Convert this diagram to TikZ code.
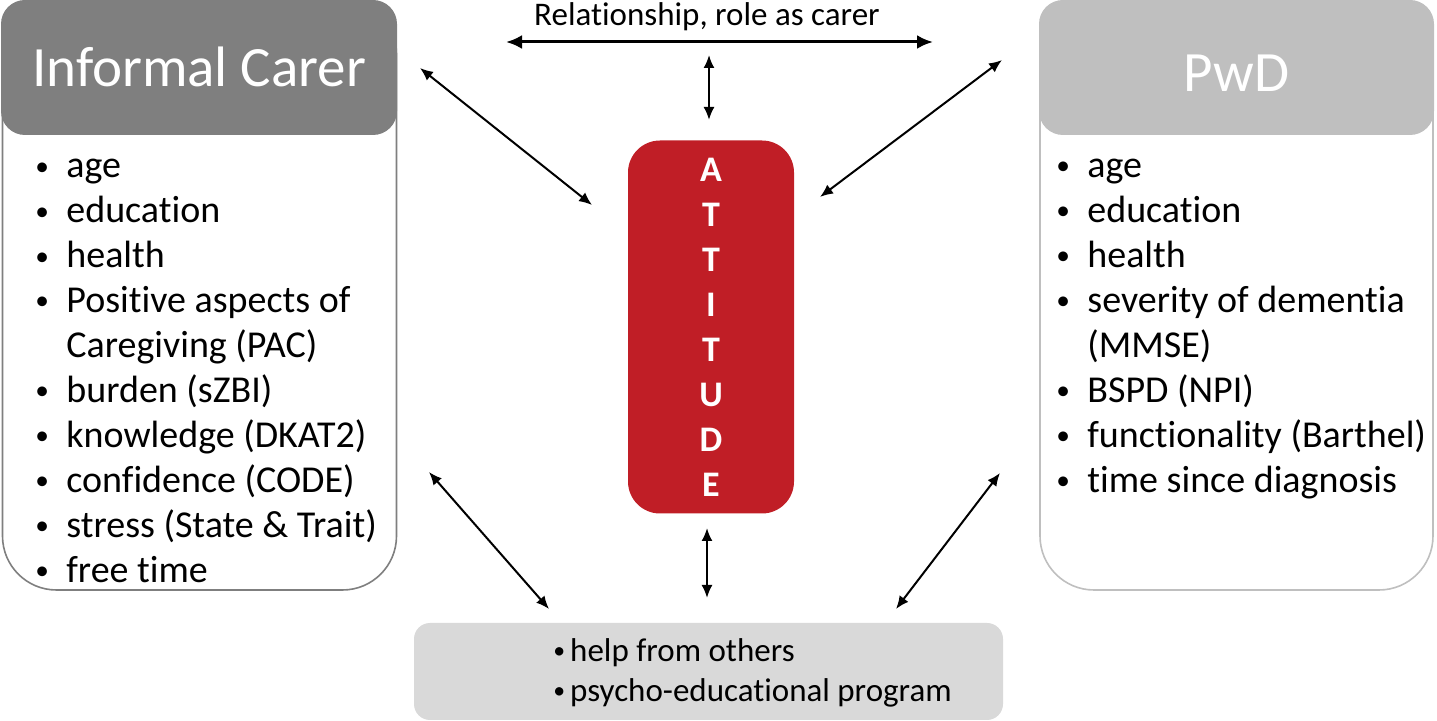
\documentclass[tikz,border=0pt]{standalone}
\usepackage{fontspec}
\setmainfont{Carlito}[Ligatures=NoCommon]
\usetikzlibrary{arrows.meta}
\definecolor{carergray}{RGB}{127,127,127}
\definecolor{pwdgray}{RGB}{191,191,191}
\definecolor{supportgray}{RGB}{217,217,217}
\definecolor{attred}{RGB}{192,30,38}
\newcommand{\smallbul}{\raisebox{1.2pt}{\scalebox{0.72}{\textbullet}}}
\newcommand{\itembul}{\makebox[17pt][l]{\hspace{1.5pt}\smallbul}}
\tikzset{
  boxbody/.style={draw, line width=0.8pt, fill=white, rounded corners=27pt, minimum width=197pt, minimum height=295pt, inner sep=0},
  boxhead/.style={rounded corners=12pt, minimum width=198pt, minimum height=67.5pt, text=white, font=\fontsize{28.5}{34}\selectfont, inner sep=0},
  itemlist/.style={anchor=north west, align=left, inner sep=0, font=\fontsize{19}{22.5}\selectfont},
  twoway/.style={{Latex[length=6.5pt,width=5.5pt]}-{Latex[length=6.5pt,width=5.5pt]}, line width=1pt},
}
\begin{document}
\begin{tikzpicture}[x=0.5pt,y=-0.5pt]
\useasboundingbox (0,0) rectangle (1437,721);
\coordinate (RL) at (506,42);
\coordinate (RR) at (933,42);
\coordinate (TU) at (709,55);
\coordinate (TD) at (709,120);
\coordinate (LU) at (420,68);
\coordinate (LA) at (592,205);
\coordinate (PU) at (1002,60);
\coordinate (PA) at (820,197);
\coordinate (LD) at (429,472);
\coordinate (LS) at (549,609);
\coordinate (PD) at (1000,473);
\coordinate (PS) at (896,609);
\coordinate (BU) at (707,528);
\coordinate (BD) at (707,598);

\node[boxbody, draw=carergray] (carerbody) at (199.5,295) {};
\node[boxhead, fill=carergray] (carerhead) at (199,67.5) {\raisebox{-9.5pt}[0pt][0pt]{Informal Carer}};
\node[itemlist] (carerlist) at (32,145.5) {\strut\itembul age\\ \itembul education\\ \itembul health\\ \itembul Positive aspects of\\ \hspace*{17pt}Caregiving (PAC)\\ \itembul burden (sZBI)\\ \itembul knowledge (DKAT2)\\ \itembul confidence (CODE)\\ \itembul stress (State \& Trait)\\ \itembul free time};

\node[boxbody, draw=pwdgray, minimum width=196.5pt] (pwdbody) at (1236.5,295) {};
\node[boxhead, fill=pwdgray, minimum width=197.5pt] (pwdhead) at (1236.5,67.5) {\raisebox{-12.25pt}[0pt][0pt]{PwD}};
\node[itemlist] (pwdlist) at (1053,145.5) {\strut\itembul age\\ \itembul education\\ \itembul health\\ \itembul severity of dementia\\ \hspace*{17pt}(MMSE)\\ \itembul BSPD (NPI)\\ \itembul functionality (Barthel)\\ \itembul time since diagnosis};

\node[fill=attred, rounded corners=16pt, minimum width=83pt, minimum height=186.5pt, text=white, align=center, font=\bfseries\fontsize{18}{22.5}\selectfont] (attitude) at (711,327) {A\\T\\T\\I\\T\\U\\D\\E};

\node[fill=supportgray, rounded corners=8pt, minimum width=294.5pt, minimum height=48.5pt] (support) at (708.5,671.5) {};
\node[anchor=north west, align=left, inner sep=0, font=\fontsize{16.5}{20}\selectfont] (supportlist) at (553,633) {\strut\smallbul\hspace{2.5pt}help from others\\ \smallbul\hspace{2.5pt}psycho-educational program};

\node[anchor=base, inner sep=0, font=\fontsize{16.5}{20}\selectfont] (relation) at (707,26) {Relationship, role as carer};

\draw[{Latex[length=8pt,width=7pt]}-{Latex[length=8pt,width=7pt]}, line width=1.5pt] (RL) -- (RR);
\draw[twoway] (TU) -- (TD);
\draw[twoway] (LU) -- (LA);
\draw[twoway] (PU) -- (PA);
\draw[twoway] (LD) -- (LS);
\draw[twoway] (PD) -- (PS);
\draw[twoway] (BU) -- (BD);
\end{tikzpicture}
\end{document}
